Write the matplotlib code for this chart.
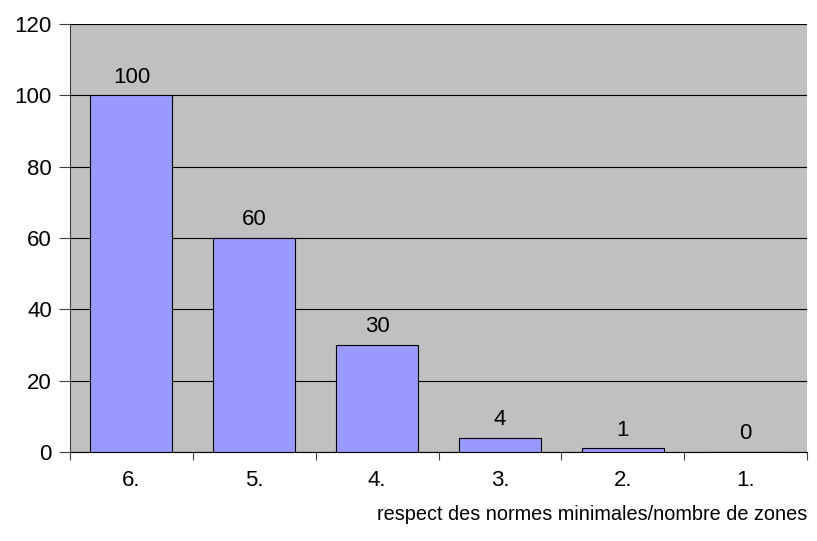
import matplotlib.pyplot as plt

plt.rcParams['font.family'] = ['Liberation Sans', 'DejaVu Sans']

categories = ['6.', '5.', '4.', '3.', '2.', '1.']
values = [100, 60, 30, 4, 1, 0]

fig = plt.figure(figsize=(8.17, 5.41), dpi=100)
ax = fig.add_axes([0.0857, 0.1645, 0.9021, 0.7911])
ax.set_facecolor('#C0C0C0')

x = range(len(categories))
bars = ax.bar(x, values, width=0.667, color='#9999FF', edgecolor='black', linewidth=0.8, zorder=3)

for xi, v in zip(x, values):
    ax.text(xi, v + 2.2, str(v), ha='center', va='bottom', fontsize=16, zorder=4)

ax.set_xlim(-0.5, len(categories) - 0.5)
ax.set_ylim(0, 120)
ax.set_yticks(range(0, 121, 20))
ax.yaxis.grid(True, color='black', linewidth=0.8, zorder=1)
ax.set_axisbelow(True)

# ticks at category boundaries, labels centered
ax.set_xticks([i - 0.5 for i in range(len(categories) + 1)])
ax.set_xticklabels([])
ax.set_xticks(list(x), minor=True)
ax.set_xticklabels(categories, minor=True, fontsize=16)
ax.tick_params(axis='x', which='minor', length=0, pad=13)
ax.tick_params(axis='x', which='major', length=6, color='#404040', direction='out')
ax.tick_params(axis='y', labelsize=16, length=8, pad=5, color='#404040')

for s in ['top', 'right']:
    ax.spines[s].set_visible(False)
ax.spines['left'].set_color('#404040')
ax.spines['bottom'].set_color('black')

ax.set_xlabel('respect des normes minimales/nombre de zones', fontsize=14.3, labelpad=10, loc='right')

plt.savefig('out.png', dpi=100)
